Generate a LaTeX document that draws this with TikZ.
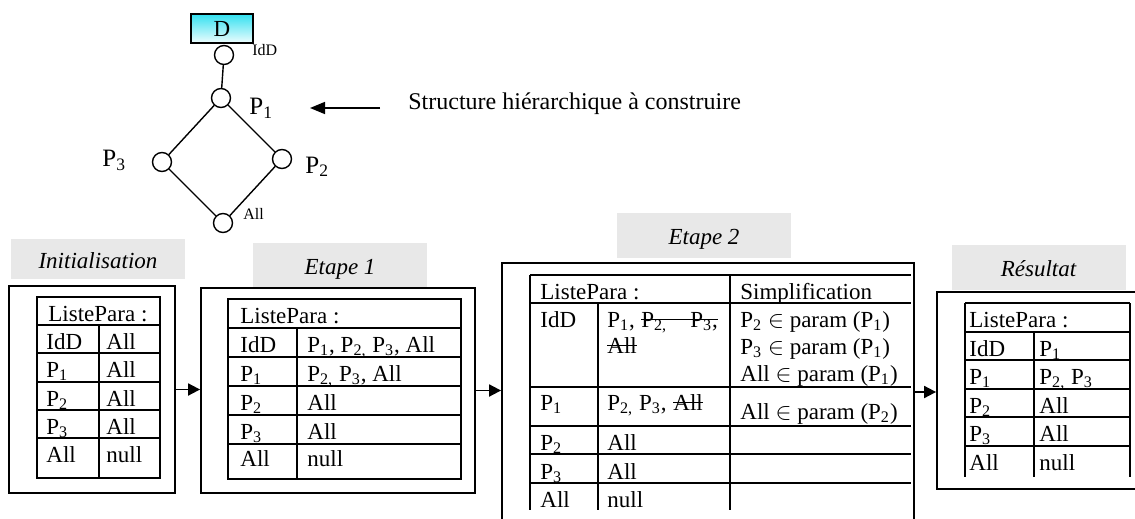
\documentclass[tikz,border=0pt]{standalone}
\usepackage{fontspec}
\setmainfont{Liberation Serif}
\usepackage{tikz}
\usetikzlibrary{arrows.meta, positioning, calc}
\definecolor{lblGray}{HTML}{E8E8E8}
\definecolor{dCyan}{HTML}{33E0F0}
\newcommand{\Pn}[1]{P\textsubscript{#1}}

\begin{document}
\begin{tikzpicture}[
    x=0.5pt, y=-0.5pt,
    vertex/.style={circle, draw, line width=0.7pt, minimum size=9.5pt, inner sep=0pt},
    edge/.style={line width=0.7pt},
    tag/.style={anchor=base west, inner sep=0pt, font=\fontsize{8}{9}\selectfont},
    ptag/.style={anchor=base west, inner sep=0pt, font=\fontsize{12.5}{14}\selectfont},
    lbl/.style={fill=lblGray, minimum width=87pt, text height=9pt, text depth=0pt, font=\fontsize{11.5}{13}\selectfont\itshape},
    stepbox/.style={rectangle, draw, line width=0.9pt, inner sep=0pt},
    tabline/.style={line width=1pt},
    cell/.style={anchor=base west, inner sep=0pt, font=\fontsize{11.5}{13}\selectfont},
    strike/.style={line width=0.6pt},
    flow/.style={-{Triangle[length=6pt, width=6pt]}, line width=0.9pt},
]
    \clip (0,0) rectangle (1135,519);

    % hierarchy to build
    \node[draw, line width=0.7pt, top color=dCyan, bottom color=dCyan!8, minimum width=31pt, minimum height=14.5pt, inner sep=0pt, font=\fontsize{11.5}{13}\selectfont] (dom) at (222,28.5) {D};
    \node[vertex] (nIdD) at (224,55) {};
    \node[vertex] (nP1) at (221,98) {};
    \node[vertex] (nP3) at (162,162) {};
    \node[vertex] (nP2) at (282,159) {};
    \node[vertex] (nAll) at (223,223) {};
    \draw[edge] (nIdD) -- (nP1);
    \draw[edge] (nP1) -- (nP3);
    \draw[edge] (nP1) -- (nP2);
    \draw[edge] (nP3) -- (nAll);
    \draw[edge] (nP2) -- (nAll);
    \node[tag] (tIdD) at (252,56) {IdD};
    \node[tag] (tAll) at (243,220) {All};
    \node[ptag] (tP1) at (249,115) {\Pn{1}};
    \node[ptag] (tP2) at (305,173) {\Pn{2}};
    \node[ptag] (tP3) at (102,167) {\Pn{3}};

    \coordinate (arrTail) at (380,108);
    \coordinate (arrTip) at (310,108);
    \draw[-{Triangle[length=7.5pt, width=6pt]}, line width=0.8pt] (arrTail) -- (arrTip);
    \node[anchor=base west, inner sep=0pt, font=\fontsize{12}{14}\selectfont] (goal) at (408,110) {Structure hiérarchique à construire};

    % step titles
    \node[lbl, minimum height=20pt] (lblInit) at (98,259) {Initialisation};
    \node[lbl, minimum height=22pt] (lblE1) at (340,265) {Etape 1};
    \node[lbl, minimum height=22.5pt] (lblE2) at (704,235.5) {Etape 2};
    \node[lbl, minimum height=22.5pt] (lblRes) at (1038.5,267.5) {Résultat};

    % step frames
    \node[stepbox, minimum width=83pt, minimum height=103.5pt] (boxInit) at (92,389.5) {};
    \node[stepbox, minimum width=137pt, minimum height=102.5pt] (boxE1) at (338,390.5) {};
    \node[stepbox, minimum width=206pt, minimum height=129pt] (boxE2) at (708,392) {};
    \node[stepbox, minimum width=111.5pt, minimum height=98.5pt] (boxRes) at (1048.5,390.5) {};
    \draw[flow] (boxInit.east) -- (boxInit.east -| boxE1.west);
    \draw[flow] (boxE1.east) -- (boxE1.east -| boxE2.west);
    \draw[flow] (boxE2.east) -- (boxE2.east -| boxRes.west);

    % table: initialisation
    \draw[tabline] (37,297) rectangle (160,478);
    \foreach \y in {325,353,382,410,438}
        \draw[tabline] (37,\y) -- (160,\y);
    \draw[tabline] (99,325) -- (99,478);
    \node[cell] (iHead) at (48,321) {ListePara :};
    \foreach \y/\a/\b in {349/IdD/All, 377/{\Pn{1}}/All, 406/{\Pn{2}}/All, 434/{\Pn{3}}/All, 462/All/null} {
        \node[cell] (ia\y) at (46,\y) {\a};
        \node[cell] (ib\y) at (106,\y) {\b};
    }

    % table: etape 1
    \draw[tabline] (228,299) rectangle (461,479);
    \foreach \y in {328,357,386,415,444}
        \draw[tabline] (228,\y) -- (461,\y);
    \draw[tabline] (297,328) -- (297,479);
    \node[cell] (eHead) at (240,323) {ListePara :};
    \foreach \y/\a/\b in {352/IdD/{\Pn{1}, \Pn{2,} \Pn{3}, All}, 381/{\Pn{1}}/{\Pn{2,} \Pn{3}, All}, 410/{\Pn{2}}/All, 439/{\Pn{3}}/All, 466/All/null} {
        \node[cell] (ea\y) at (240,\y) {\a};
        \node[cell] (eb\y) at (307,\y) {\b};
    }

    % table: etape 2
    \foreach \y in {275,303,387,426,454,483}
        \draw[tabline] (530,\y) -- (911,\y);
    \draw[tabline] (530,275) -- (530,510);
    \draw[tabline] (598,303) -- (598,510);
    \draw[tabline] (730,275) -- (730,510);
    \node[cell] (sHead) at (540,299) {ListePara :};
    \node[cell] (sSimp) at (740,299) {Simplification};
    \node[cell] (sIdD) at (540,327) {IdD};
    \node[cell] (sKeep) at (607,327) {\Pn{1},};
    \node[cell] (sCut1) at (641,327) {\Pn{2,}\quad\Pn{3},};
    \node[cell] (sCut2) at (607,353) {All};
    \draw[strike] ([yshift=3.6pt]sCut1.base west) -- ([yshift=3.6pt]sCut1.base east);
    \draw[strike] ([yshift=3.6pt]sCut2.base west) -- ([yshift=3.6pt]sCut2.base east);
    \node[cell] (sR1) at (740,327) {\Pn{2} $\in$ param (\Pn{1})};
    \node[cell] (sR2) at (740,354) {\Pn{3} $\in$ param (\Pn{1})};
    \node[cell] (sR3) at (740,381) {All $\in$ param (\Pn{1})};
    \node[cell] (sP1) at (540,410) {\Pn{1}};
    \node[cell] (sKeep2) at (607,410) {\Pn{2,} \Pn{3},};
    \node[cell, anchor=base west] (sCut3) at ([xshift=3pt]sKeep2.base east) {All};
    \draw[strike] ([yshift=3.6pt]sCut3.base west) -- ([yshift=3.6pt]sCut3.base east);
    \node[cell] (sR4) at (740,419) {All $\in$ param (\Pn{2})};
    \foreach \y/\a/\b in {450/{\Pn{2}}/All, 479/{\Pn{3}}/All, 507/All/null} {
        \node[cell] (sa\y) at (540,\y) {\a};
        \node[cell] (sb\y) at (607,\y) {\b};
    }

    % table: resultat
    \foreach \y in {303,332,360,389,417,446}
        \draw[tabline] (965,\y) -- (1130,\y);
    \draw[tabline] (965,303) -- (965,477);
    \draw[tabline] (1130,303) -- (1130,477);
    \draw[tabline] (1034,332) -- (1034,477);
    \node[cell] (rHead) at (969,327) {ListePara :};
    \foreach \y/\a/\b in {356/IdD/{\Pn{1}}, 384/{\Pn{1}}/{\Pn{2,} \Pn{3}}, 413/{\Pn{2}}/All, 441/{\Pn{3}}/All, 470/All/null} {
        \node[cell] (ra\y) at (969,\y) {\a};
        \node[cell] (rb\y) at (1039,\y) {\b};
    }
\end{tikzpicture}
\end{document}
